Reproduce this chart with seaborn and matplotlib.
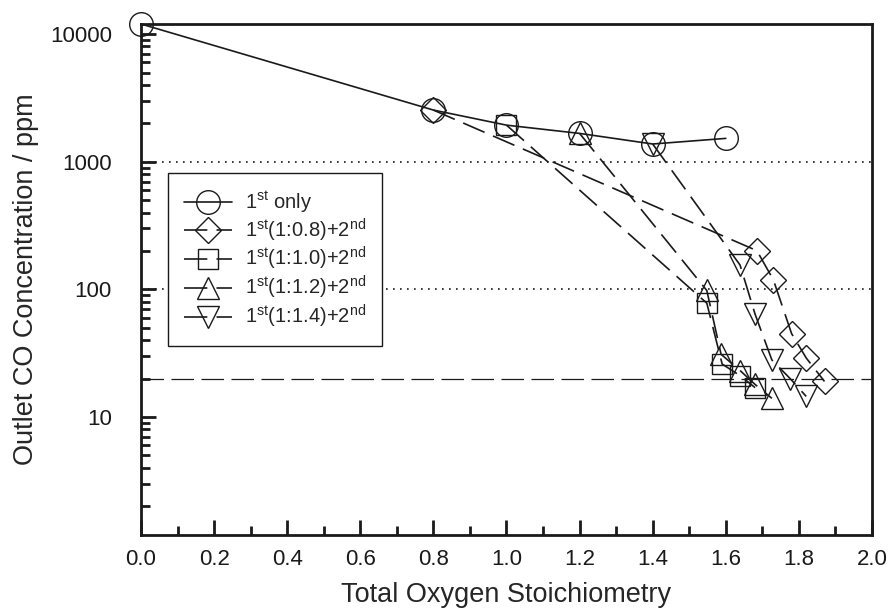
import matplotlib
matplotlib.use('Agg')
import matplotlib.pyplot as plt
import matplotlib.ticker as mticker
import numpy as np
import pandas as pd
import seaborn as sns

# data
x_first = [0.0, 0.8, 1.0, 1.2, 1.4, 1.6]
co_first = [12000, 2540, 1935, 1667, 1377, 1524]

x_08 = [0.8, 1.685, 1.73, 1.78, 1.82, 1.87]
co_08 = [2540, 201, 119, 45, 29, 19]

x_10 = [1.0, 1.548, 1.59, 1.64, 1.68]
co_10 = [1935, 78, 26, 21, 17]

x_12 = [1.2, 1.548, 1.587, 1.64, 1.68, 1.726]
co_12 = [1667, 98, 31, 23, 18, 14]

x_14 = [1.4, 1.639, 1.68, 1.726, 1.776, 1.82]
co_14 = [1377, 155, 64, 28, 20, 14.5]

labels = [r'1$^{\mathrm{st}}$ only',
          r'1$^{\mathrm{st}}$(1:0.8)+2$^{\mathrm{nd}}$',
          r'1$^{\mathrm{st}}$(1:1.0)+2$^{\mathrm{nd}}$',
          r'1$^{\mathrm{st}}$(1:1.2)+2$^{\mathrm{nd}}$',
          r'1$^{\mathrm{st}}$(1:1.4)+2$^{\mathrm{nd}}$']

x_ticks = [0.0, 0.2, 0.4, 0.6, 0.8, 1.0, 1.2, 1.4, 1.6, 1.8, 2.0]
y_ticks = [10, 100, 1000, 10000]

sns.set_theme(style="ticks")
plt.rcParams['font.family'] = ['Liberation Sans', 'DejaVu Sans']
plt.rcParams['mathtext.fontset'] = 'custom'
plt.rcParams['mathtext.rm'] = 'Liberation Sans'
plt.rcParams['mathtext.it'] = 'Liberation Sans:italic'
plt.rcParams['mathtext.bf'] = 'Liberation Sans:bold'

fig = plt.figure(figsize=(8.9, 6.12), dpi=100)
ax = fig.add_axes([0.1584, 0.1258, 0.8214, 0.835])

# reference lines
ax.axhline(1000, color='k', lw=1.2, ls=(0, (1.0, 3.2)), zorder=1)
ax.axhline(100, color='k', lw=1.2, ls=(0, (1.0, 3.2)), zorder=1)
ax.axhline(20, color='k', lw=0.9, ls=(0, (18, 6)), zorder=1)

dash = (0, (14, 5.5))
series = [
    (x_first, co_first, 'o', 17, '-'),
    (x_08, co_08, 'D', 13, dash),
    (x_10, co_10, 's', 15, dash),
    (x_12, co_12, '^', 15.5, dash),
    (x_14, co_14, 'v', 15.5, dash),
]

handles = []
for (xs, ys, mk, ms, ls), lab in zip(series, labels):
    df = pd.DataFrame({'x': xs, 'y': ys})
    sns.lineplot(data=df, x='x', y='y', ax=ax, color='k', lw=1.2,
                 linestyle=ls, marker=mk, markersize=ms,
                 markerfacecolor='none', markeredgecolor='k',
                 markeredgewidth=1.0, sort=False, clip_on=False, zorder=3)
    handles.append(ax.lines[-1])

ax.set_yscale('log')
ax.set_xlim(0, 2.0)
ax.set_ylim(1.19, 12000)

ax.set_xticks(x_ticks)
ax.set_xticklabels([f'{v:.1f}' for v in x_ticks])
ax.xaxis.set_minor_locator(mticker.MultipleLocator(0.1))
ax.set_yticks(y_ticks)
ax.set_yticklabels([str(v) for v in y_ticks])
ax.yaxis.set_minor_locator(mticker.LogLocator(base=10, subs=np.arange(2, 10)))
ax.yaxis.set_minor_formatter(mticker.NullFormatter())

ax.tick_params(which='both', direction='in', width=2, colors='k')
ax.tick_params(which='major', length=10.5, labelsize=16)
ax.tick_params(which='minor', length=6.5)
ax.tick_params(axis='x', which='major', pad=10)
ax.tick_params(axis='y', which='major', pad=21)

for sp in ax.spines.values():
    sp.set_linewidth(2)
    sp.set_color('k')

ax.set_xlabel('Total Oxygen Stoichiometry', fontsize=19.5, labelpad=9)
ax.set_ylabel('Outlet CO Concentration / ppm', fontsize=19.5, labelpad=8)

leg = ax.legend(handles, labels, loc='upper left',
                bbox_to_anchor=(0.037, 0.708), borderaxespad=0,
                fontsize=14.5, handlelength=2.4, labelspacing=0.08,
                frameon=True, fancybox=False, framealpha=1,
                edgecolor='k', borderpad=0.8, handletextpad=0.6)
leg.get_frame().set_linewidth(1.0)
leg.set_zorder(5)

fig.savefig('out.png', dpi=100)
